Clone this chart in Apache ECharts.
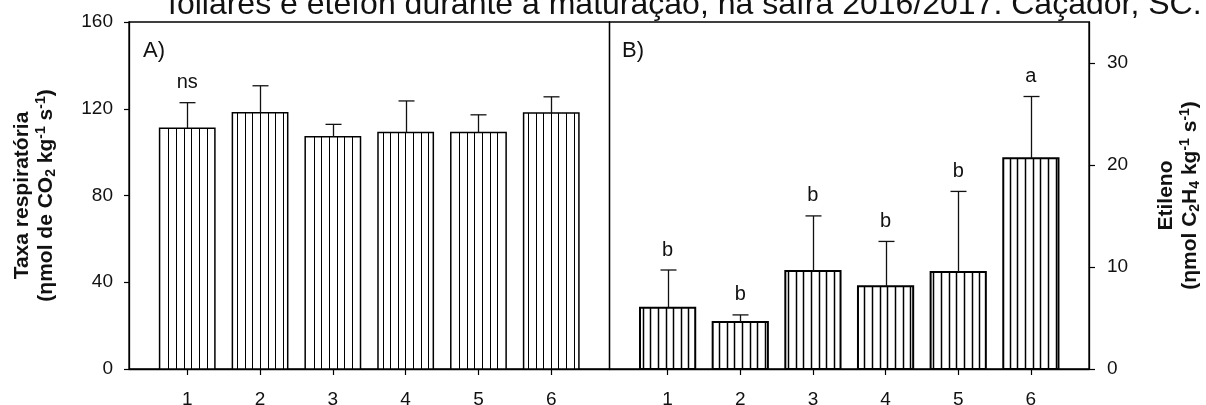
<!DOCTYPE html>
<html>
<head>
<meta charset="utf-8">
<script src="https://cdn.jsdelivr.net/npm/echarts@6/dist/echarts.min.js"></script>
<style>
  html, body { margin: 0; padding: 0; background: #fff; }
  #chart { width: 1206px; height: 405px; }
</style>
</head>
<body>
<div id="chart"></div>
<script>
// Treatments (x categories)
const categories = [1, 2, 3, 4, 5, 6];

// A) respiratory rate, mean and standard error (ηmol CO2 kg-1 s-1)
const respMean = [111.0, 118.2, 107.1, 109.1, 109.0, 118.0];
const respErr = [11.8, 12.4, 5.7, 14.5, 8.2, 7.5];
const respLetters = ['ns', '', '', '', '', ''];
const respTicks = [0, 40, 80, 120, 160];

// B) ethylene production, mean and standard error (ηmol C2H4 kg-1 s-1)
const ethMean = [6.0, 4.6, 9.6, 8.1, 9.5, 20.65];
const ethErr = [3.7, 0.7, 5.4, 4.4, 7.9, 6.05];
const ethLetters = ['b', 'b', 'b', 'b', 'b', 'a'];
const ethTicks = [0, 10, 20, 30];

const panelLabels = ['A)', 'B)'];
const captionText = 'foliares e etefon durante a maturação, na safra 2016/2017. Caçador, SC.';

const FONT = '"Liberation Sans", Arial, Helvetica, sans-serif';
const INK = '#111';
const BAR_W = 0.76;          // bar width in axis units
const HATCH = 7.65;          // spacing of vertical hatch lines (px)

function crisp(v) { return Math.round(v) + 0.5; }

function hatchedBars(axisIdx, means, errs, letters, edgeW, stripeW) {
  return {
    type: 'custom',
    xAxisIndex: axisIdx,
    yAxisIndex: axisIdx,
    clip: false,
    data: categories.map((c, i) => [c, means[i], errs[i]]),
    encode: { x: 0, y: 1 },
    renderItem(params, api) {
      const x = api.value(0), m = api.value(1), e = api.value(2);
      const half = api.size([BAR_W, 0])[0] / 2;
      const base = api.coord([x, 0]);
      const top = api.coord([x, m]);
      const cap = api.coord([x, m + e]);
      const x0 = base[0] - half, x1 = base[0] + half;
      const kids = [];
      kids.push({
        type: 'rect',
        shape: { x: x0, y: top[1], width: x1 - x0, height: base[1] - top[1] },
        style: { fill: '#fff', stroke: null }
      });
      for (let sx = Math.ceil((x0 + 2) / HATCH) * HATCH; sx < x1 - 2; sx += HATCH) {
        const cx = crisp(sx);
        kids.push({
          type: 'line',
          shape: { x1: cx, y1: top[1], x2: cx, y2: base[1] },
          style: { stroke: '#000', lineWidth: stripeW }
        });
      }
      kids.push({
        type: 'rect',
        shape: { x: x0, y: top[1], width: x1 - x0, height: base[1] - top[1] },
        style: { fill: null, stroke: '#000', lineWidth: edgeW }
      });
      const ex = crisp(base[0]);
      kids.push({
        type: 'line',
        shape: { x1: ex, y1: top[1], x2: ex, y2: cap[1] },
        style: { stroke: '#111', lineWidth: 1.3 }
      });
      kids.push({
        type: 'line',
        shape: { x1: ex - 8, y1: cap[1], x2: ex + 8, y2: cap[1] },
        style: { stroke: '#111', lineWidth: 1.3 }
      });
      const letter = letters[params.dataIndex];
      if (letter) {
        kids.push({
          type: 'text',
          style: {
            text: letter, x: base[0], y: cap[1] - 20,
            align: 'center', verticalAlign: 'middle',
            fontFamily: FONT, fontSize: 20, fill: INK
          }
        });
      }
      return { type: 'group', children: kids };
    }
  };
}

const nameRich = {
  t: { fontFamily: FONT, fontWeight: 'bold', fontSize: 21, lineHeight: 24, color: INK },
  sub: { fontFamily: FONT, fontWeight: 'bold', fontSize: 14, lineHeight: 13, verticalAlign: 'bottom', color: INK },
  sup: { fontFamily: FONT, fontWeight: 'bold', fontSize: 14, lineHeight: 15, verticalAlign: 'top', color: INK }
};

function xAxisFor(gridIndex) {
  return {
    gridIndex, type: 'value', min: 0.2, max: 6.8,
    axisLine: { show: true, onZero: false, lineStyle: { color: '#000', width: 1.3 } },
    axisTick: { show: true, customValues: categories, length: 6, inside: false, lineStyle: { color: '#000', width: 1.2 } },
    axisLabel: { customValues: categories, margin: 21, fontFamily: FONT, fontSize: 19, color: INK },
    splitLine: { show: false }
  };
}

const chart = echarts.init(document.getElementById('chart'), null, { renderer: 'canvas' });

const gridBase = { top: 22, height: 347, show: true, borderColor: '#000', borderWidth: 1.3, backgroundColor: 'transparent', containLabel: false, outerBoundsMode: 'none' };

chart.setOption({
  backgroundColor: '#fff',
  animation: false,
  grid: [
    Object.assign({ left: 129, width: 480.5 }, gridBase),
    Object.assign({ left: 609.5, width: 479.5 }, gridBase)
  ],
  xAxis: [xAxisFor(0), xAxisFor(1)],
  yAxis: [
    {
      gridIndex: 0, type: 'value', min: 0, max: 160,
      axisLine: { show: true, lineStyle: { color: '#000', width: 1.3 } },
      axisTick: { show: true, customValues: respTicks, length: 5, lineStyle: { color: '#000', width: 1.2 } },
      axisLabel: { customValues: respTicks, margin: 16, fontFamily: FONT, fontSize: 19, color: INK },
      splitLine: { show: false },
      name: '{t|Taxa respiratória}\n{t|(ηmol de CO}{sub|2}{t| kg}{sup|-1}{t| s}{sup|-1}{t|)}',
      nameLocation: 'middle', nameRotate: 90, nameGap: 71,
      nameTextStyle: { fontFamily: FONT, fontWeight: 'bold', fontSize: 21, lineHeight: 24, color: INK, rich: nameRich }
    },
    {
      gridIndex: 1, type: 'value', position: 'right', min: 0, max: 34,
      axisLine: { show: true, lineStyle: { color: '#000', width: 1.3 } },
      axisTick: { show: true, customValues: ethTicks, length: 6, lineStyle: { color: '#000', width: 1.2 } },
      axisLabel: { customValues: ethTicks, margin: 18, fontFamily: FONT, fontSize: 19, color: INK },
      splitLine: { show: false },
      name: '{t|Etileno}\n{t|(ηmol C}{sub|2}{t|H}{sub|4}{t| kg}{sup|-1}{t| s}{sup|-1}{t|)}',
      nameLocation: 'middle', nameRotate: 90, nameGap: 65,
      nameTextStyle: { fontFamily: FONT, fontWeight: 'bold', fontSize: 21, lineHeight: 24, color: INK, rich: nameRich }
    }
  ],
  graphic: [
    { type: 'text', x: 168, y: 5, style: { text: captionText, fontFamily: FONT, fontSize: 32, fill: INK, verticalAlign: 'middle' } },
    { type: 'text', x: 143, y: 50.7, style: { text: panelLabels[0], fontFamily: FONT, fontSize: 22, fill: INK, verticalAlign: 'middle' } },
    { type: 'text', x: 622, y: 50.7, style: { text: panelLabels[1], fontFamily: FONT, fontSize: 22, fill: INK, verticalAlign: 'middle' } }
  ],
  series: [
    hatchedBars(0, respMean, respErr, respLetters, 1.5, 1),
    hatchedBars(1, ethMean, ethErr, ethLetters, 2, 1.5)
  ]
});
</script>
</body>
</html>
